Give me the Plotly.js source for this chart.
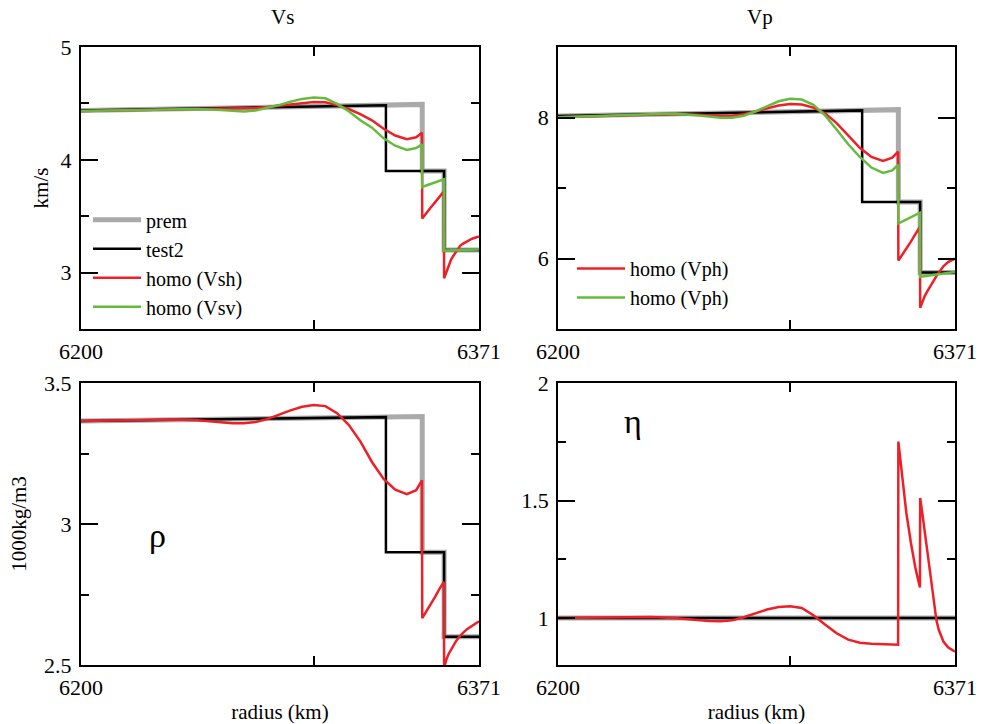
<!DOCTYPE html>
<html>
<head>
<meta charset="utf-8">
<script src="https://cdn.plot.ly/plotly-3.0.1.min.js"></script>
</head>
<body style="margin:0">
<div id="chart" style="width:982px;height:724px"></div>
<script>
// ---------- data (radius in km) ----------
const radiusPrem  = [6200, 6346.6, 6346.6, 6356, 6356, 6371];
const radiusTest2 = [6200, 6331, 6331, 6356, 6356, 6371];

const vsPrem   = [4.437, 4.491, 3.9, 3.9, 3.2, 3.2];
const vsTest2  = [4.437, 4.483, 3.9, 3.9, 3.2, 3.2];
const vpPrem   = [8.020, 8.111, 6.8, 6.8, 5.8, 5.8];
const vpTest2  = [8.020, 8.101, 6.8, 6.8, 5.8, 5.8];
const rhoPrem  = [3.365, 3.381, 2.9, 2.9, 2.6, 2.6];
const rhoTest2 = [3.365, 3.379, 2.9, 2.9, 2.6, 2.6];
const etaPrem  = [1, 1, 1, 1, 1, 1];
const etaTest2 = [1, 1, 1, 1, 1, 1];

const radiusHomo = [6200, 6210, 6220, 6230, 6240, 6250, 6260, 6265, 6270, 6275,
                    6280, 6285, 6290, 6295, 6300, 6305, 6310, 6315, 6320, 6325,
                    6330, 6335, 6340, 6344, 6346.5, 6346.6, 6348, 6350, 6352, 6354,
                    6355.9, 6356, 6357, 6358, 6359, 6360, 6361, 6362, 6363, 6364,
                    6366, 6368, 6371];

const vshHomo = [4.433, 4.437, 4.441, 4.445, 4.449, 4.452, 4.454, 4.455, 4.457, 4.460,
                 4.468, 4.480, 4.495, 4.507, 4.513, 4.510, 4.485, 4.450, 4.405, 4.350,
                 4.275, 4.215, 4.183, 4.200, 4.240, 3.480, 3.520, 3.570, 3.620, 3.670,
                 3.720, 2.950, 3.010, 3.070, 3.115, 3.150, 3.180, 3.210, 3.240, 3.255,
                 3.280, 3.300, 3.320];

const vsvHomo = [4.433, 4.437, 4.442, 4.447, 4.450, 4.450, 4.442, 4.435, 4.429, 4.438,
                 4.460, 4.485, 4.515, 4.540, 4.553, 4.545, 4.495, 4.430, 4.350, 4.285,
                 4.190, 4.125, 4.088, 4.105, 4.137, 3.756, 3.770, 3.785, 3.800, 3.815,
                 3.828, 3.195, 3.196, 3.197, 3.198, 3.199, 3.200, 3.200, 3.201, 3.202,
                 3.203, 3.204, 3.205];

const vphHomoRed = [8.005, 8.015, 8.025, 8.035, 8.045, 8.050, 8.040, 8.030, 8.022, 8.025,
                    8.045, 8.085, 8.130, 8.170, 8.190, 8.185, 8.140, 8.060, 7.920, 7.750,
                    7.570, 7.440, 7.385, 7.430, 7.515, 5.970, 6.040, 6.130, 6.240, 6.350,
                    6.450, 5.300, 5.390, 5.470, 5.530, 5.590, 5.650, 5.700, 5.750, 5.800,
                    5.890, 5.950, 6.000];

const vphHomoGreen = [8.005, 8.015, 8.030, 8.045, 8.055, 8.055, 8.030, 8.010, 7.995, 7.995,
                      8.025, 8.085, 8.160, 8.230, 8.265, 8.255, 8.180, 8.030, 7.830, 7.620,
                      7.440, 7.290, 7.215, 7.250, 7.330, 6.500, 6.520, 6.550, 6.580, 6.620,
                      6.650, 5.740, 5.745, 5.750, 5.755, 5.760, 5.765, 5.770, 5.775, 5.780,
                      5.790, 5.800, 5.810];

const rhoHomo = [3.365, 3.367, 3.369, 3.370, 3.371, 3.368, 3.361, 3.357, 3.357, 3.362,
                 3.372, 3.388, 3.403, 3.416, 3.422, 3.418, 3.393, 3.352, 3.293, 3.220,
                 3.160, 3.122, 3.106, 3.120, 3.155, 2.666, 2.685, 2.710, 2.740, 2.770,
                 2.795, 2.490, 2.520, 2.540, 2.556, 2.570, 2.583, 2.595, 2.605, 2.613,
                 2.628, 2.640, 2.655];

const etaHomo = [1.000, 1.001, 1.002, 1.004, 1.004, 1.000, 0.991, 0.987, 0.986, 0.990,
                 1.003, 1.020, 1.036, 1.047, 1.050, 1.043, 1.012, 0.972, 0.935, 0.908,
                 0.895, 0.890, 0.888, 0.887, 0.886, 1.751, 1.620, 1.450, 1.320, 1.210,
                 1.130, 1.511, 1.440, 1.365, 1.290, 1.210, 1.130, 1.045, 0.990, 0.950,
                 0.900, 0.875, 0.857];

const xTickVals = [6200, 6300, 6371];
const xTickText = ['6200', '', '6371'];

// ---------- styles ----------
const SERIF = 'Liberation Serif';
const GRAY = '#aaaaaa', BLACK = '#000000', RED = '#ee1f26', GREEN = '#66bb3f';

function mkLine(x, y, color, width, name, xa, ya, legend, show) {
  return {x: x, y: y, type: 'scatter', mode: 'lines', name: name,
          xaxis: xa, yaxis: ya, legend: legend || 'legend', showlegend: !!show,
          line: {color: color, width: width}};
}

const traces = [
  mkLine(radiusPrem, vsPrem, GRAY, 5, 'prem', 'x', 'y', 'legend', true),
  mkLine(radiusTest2, vsTest2, BLACK, 2.5, 'test2', 'x', 'y', 'legend', true),
  mkLine(radiusHomo, vshHomo, RED, 2.5, 'homo (Vsh)', 'x', 'y', 'legend', true),
  mkLine(radiusHomo, vsvHomo, GREEN, 2.5, 'homo (Vsv)', 'x', 'y', 'legend', true),
  mkLine(radiusPrem, vpPrem, GRAY, 5, 'prem', 'x2', 'y2', 'legend2', false),
  mkLine(radiusTest2, vpTest2, BLACK, 2.5, 'test2', 'x2', 'y2', 'legend2', false),
  mkLine(radiusHomo, vphHomoRed, RED, 2.5, 'homo (Vph)', 'x2', 'y2', 'legend2', true),
  mkLine(radiusHomo, vphHomoGreen, GREEN, 2.5, 'homo (Vph)', 'x2', 'y2', 'legend2', true),
  mkLine(radiusPrem, rhoPrem, GRAY, 5, 'prem', 'x3', 'y3', 'legend', false),
  mkLine(radiusTest2, rhoTest2, BLACK, 2.5, 'test2', 'x3', 'y3', 'legend', false),
  mkLine(radiusHomo, rhoHomo, RED, 2.5, 'homo', 'x3', 'y3', 'legend', false),
  mkLine(radiusPrem, etaPrem, GRAY, 5, 'prem', 'x4', 'y4', 'legend', false),
  mkLine(radiusTest2, etaTest2, BLACK, 2.5, 'test2', 'x4', 'y4', 'legend', false),
  mkLine(radiusHomo, etaHomo, RED, 2.5, 'homo', 'x4', 'y4', 'legend', false)
];

function xAxis(domain, anchor, withTitle) {
  const ax = {
    domain: domain, anchor: anchor, range: [6200, 6371],
    tickmode: 'array', tickvals: xTickVals, ticktext: xTickText,
    ticks: 'inside', ticklen: 9, tickwidth: 1.5, tickcolor: '#000000',
    showline: true, linewidth: 2, linecolor: '#000000', mirror: 'ticks',
    showgrid: false, zeroline: false,
    tickfont: {family: SERIF, size: 22, color: '#000000'}, ticklabelstandoff: 2
  };
  if (withTitle) ax.title = {text: 'radius (km)', font: {family: SERIF, size: 21, color: '#000000'}, standoff: 6};
  return ax;
}
function yAxis(domain, anchor, range, major, labels, minor, title, standoff) {
  const ax = {
    domain: domain, anchor: anchor, range: range,
    tickmode: 'array', tickvals: major, ticktext: labels,
    ticks: 'inside', ticklen: 17, tickwidth: 1.5, tickcolor: '#000000',
    minor: {tickmode: 'array', tickvals: minor, ticks: 'inside', ticklen: 8, tickwidth: 1.5, tickcolor: '#000000', showgrid: false},
    showline: true, linewidth: 2, linecolor: '#000000', mirror: 'ticks',
    showgrid: false, zeroline: false,
    tickfont: {family: SERIF, size: 22, color: '#000000'}, ticklabelstandoff: 3
  };
  if (title) ax.title = {text: title, font: {family: SERIF, size: 21, color: '#000000'}, standoff: standoff};
  return ax;
}

const layout = {
  width: 982, height: 724,
  margin: {l: 81, r: 27, t: 47, b: 59},
  paper_bgcolor: '#ffffff', plot_bgcolor: '#ffffff',
  xaxis:  xAxis([0, 0.4554], 'y', false),
  xaxis2: xAxis([0.5458, 1], 'y2', false),
  xaxis3: xAxis([0, 0.4554], 'y3', true),
  xaxis4: xAxis([0.5458, 1], 'y4', true),
  yaxis:  yAxis([0.5437, 1], 'x', [2.5, 5], [3, 4, 5], ['3', '4', '5'], [2.5, 3.5, 4.5], 'km/s', 6),
  yaxis2: yAxis([0.5437, 1], 'x2', [5, 9], [6, 8], ['6', '8'], [5, 7, 9], null),
  yaxis3: yAxis([0, 0.4563], 'x3', [2.5, 3.5], [2.5, 3, 3.5], ['2.5', '3', '3.5'], [2.75, 3.25], '1000kg/m3', 12),
  yaxis4: yAxis([0, 0.4563], 'x4', [0.8, 2], [1, 1.5, 2], ['1', '1.5', '2'], [1.25, 1.75], null),
  showlegend: true,
  legend: {x: 0.008, y: 0.752, xanchor: 'left', yanchor: 'top', bgcolor: 'rgba(0,0,0,0)',
           borderwidth: 0, itemwidth: 48, font: {family: SERIF, size: 20, color: '#000000'},
           traceorder: 'normal'},
  legend2: {x: 0.5618, y: 0.6731, xanchor: 'left', yanchor: 'top', bgcolor: 'rgba(0,0,0,0)',
            borderwidth: 0, itemwidth: 48, font: {family: SERIF, size: 20, color: '#000000'},
            traceorder: 'normal'},
  annotations: [
    {text: 'Vs', xref: 'paper', yref: 'paper', x: 0.2311, y: 1.0485, showarrow: false,
     xanchor: 'center', yanchor: 'middle', font: {family: SERIF, size: 21, color: '#000000'}},
    {text: 'Vp', xref: 'paper', yref: 'paper', x: 0.7769, y: 1.0485, showarrow: false,
     xanchor: 'center', yanchor: 'middle', font: {family: SERIF, size: 21, color: '#000000'}},
    {text: 'ρ', xref: 'paper', yref: 'paper', x: 0.087, y: 0.2100, showarrow: false,
     xanchor: 'center', yanchor: 'middle', font: {family: SERIF, size: 34, color: '#000000'}},
    {text: 'η', xref: 'paper', yref: 'paper', x: 0.6316, y: 0.3935, showarrow: false,
     xanchor: 'center', yanchor: 'middle', font: {family: SERIF, size: 34, color: '#000000'}}
  ]
};

Plotly.newPlot('chart', traces, layout, {displayModeBar: false});
</script>
</body>
</html>
